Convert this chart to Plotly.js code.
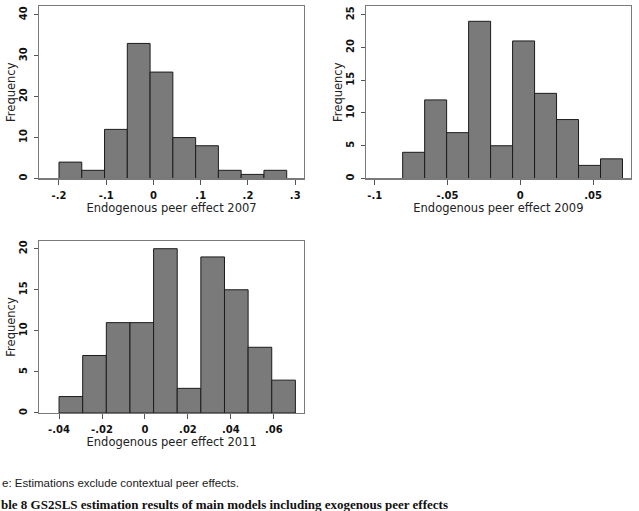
<!DOCTYPE html>
<html>
<head>
<meta charset="utf-8">
<script src="https://cdn.plot.ly/plotly-3.0.1.min.js"></script>
<style>
  html, body { margin: 0; padding: 0; background: #ffffff; }
  #chart { width: 639px; height: 511px; }
</style>
</head>
<body>
<div id="chart"></div>
<script>
// Frequencies of the estimated endogenous peer effect, one histogram per wave
const freq2007 = [4, 2, 12, 33, 26, 10, 8, 2, 1, 2];
const binStart2007 = -0.2;
const binWidth2007 = 0.0482;

const freq2009 = [4, 12, 7, 24, 5, 21, 13, 9, 2, 3];
const binStart2009 = -0.0808;
const binWidth2009 = 0.0151;

const freq2011 = [2, 7, 11, 11, 20, 3, 19, 15, 8, 4];
const binStart2011 = -0.0400;
const binWidth2011 = 0.0110;

// Tick positions and their labels (Stata style, no leading zero)
const xTicks2007 = [-0.2, -0.1, 0, 0.1, 0.2, 0.3];
const xLabels2007 = ['-.2', '-.1', '0', '.1', '.2', '.3'];
const yTicks2007 = [0, 10, 20, 30, 40];

const xTicks2009 = [-0.1, -0.05, 0, 0.05];
const xLabels2009 = ['-.1', '-.05', '0', '.05'];
const yTicks2009 = [0, 5, 10, 15, 20, 25];

const xTicks2011 = [-0.04, -0.02, 0, 0.02, 0.04, 0.06];
const xLabels2011 = ['-.04', '-.02', '0', '.02', '.04', '.06'];
const yTicks2011 = [0, 5, 10, 15, 20];

const xTitles = ['Endogenous peer effect 2007', 'Endogenous peer effect 2009', 'Endogenous peer effect 2011'];

function binCenters(start, width, n) {
  return Array.from({length: n}, (_, i) => start + (i + 0.5) * width);
}

function histTrace(freq, start, width, xa, ya) {
  return {
    type: 'bar',
    x: binCenters(start, width, freq.length),
    y: freq,
    width: freq.map(() => width),
    xaxis: xa,
    yaxis: ya,
    marker: { color: '#7a7a7a', line: { color: '#1c1c1c', width: 1 } },
    hoverinfo: 'x+y',
    showlegend: false
  };
}

const traces = [
  histTrace(freq2007, binStart2007, binWidth2007, 'x', 'y'),
  histTrace(freq2009, binStart2009, binWidth2009, 'x2', 'y2'),
  histTrace(freq2011, binStart2011, binWidth2011, 'x3', 'y3')
];

const tickFont = { family: 'DejaVu Sans', size: 10, color: '#111111', weight: 'bold' };
const titleFont = { family: 'DejaVu Sans', size: 11.5, color: '#222222' };

function xAxis(domain, range, vals, labels, title, anchor) {
  return {
    domain: domain, range: range, anchor: anchor,
    tickmode: 'array', tickvals: vals, ticktext: labels,
    ticks: 'outside', ticklen: 5, tickcolor: '#555555', tickwidth: 1,
    ticklabelstandoff: 2,
    showline: true, mirror: true, linecolor: '#7a7a7a', linewidth: 1.2,
    showgrid: false, zeroline: false,
    tickfont: tickFont,
    title: { text: title, font: titleFont, standoff: 0 },
    automargin: false, fixedrange: true
  };
}

function yAxis(domain, range, vals, anchor) {
  return {
    domain: domain, range: range, anchor: anchor,
    tickmode: 'array', tickvals: vals,
    ticks: 'outside', ticklen: 4, tickcolor: '#555555', tickwidth: 1,
    tickangle: -90,
    ticklabelstandoff: 3,
    showline: true, mirror: true, linecolor: '#7a7a7a', linewidth: 1.2,
    showgrid: false, zeroline: false,
    tickfont: tickFont,
    title: { text: 'Frequency', font: titleFont, standoff: 0 },
    automargin: false, fixedrange: true
  };
}

const layout = {
  width: 639, height: 511,
  margin: { l: 0, r: 0, t: 0, b: 0 },
  paper_bgcolor: '#ffffff', plot_bgcolor: '#ffffff',
  bargap: 0,
  xaxis:  xAxis([0.0615, 0.4753], [-0.2417, 0.318], xTicks2007, xLabels2007, xTitles[0], 'y'),
  yaxis:  yAxis([0.6507, 0.9883], [0, 42.15], yTicks2007, 'x'),
  xaxis2: xAxis([0.5732, 0.9867], [-0.1058, 0.0757], xTicks2009, xLabels2009, xTitles[1], 'y2'),
  yaxis2: yAxis([0.6507, 0.9883], [0, 26.34], yTicks2009, 'x2'),
  xaxis3: xAxis([0.0615, 0.4757], [-0.0492, 0.0740], xTicks2011, xLabels2011, xTitles[2], 'y3'),
  yaxis3: yAxis([0.1918, 0.5284], [0, 20.94], yTicks2011, 'x3'),
  annotations: [
    {
      text: 'e: Estimations exclude contextual peer effects.',
      xref: 'paper', yref: 'paper', x: 0, y: 1 - 483 / 511,
      xanchor: 'left', yanchor: 'middle', showarrow: false,
      font: { family: 'Liberation Sans', size: 11.5, color: '#1a1a1a' }
    },
    {
      text: '<b>ble 8 GS2SLS estimation results of main models including exogenous peer effects</b>',
      xref: 'paper', yref: 'paper', x: 0, y: 0,
      xanchor: 'left', yanchor: 'bottom', yshift: -2, borderpad: 0, showarrow: false,
      font: { family: 'Liberation Serif', size: 13, color: '#111111' }
    }
  ]
};

Plotly.newPlot('chart', traces, layout, { staticPlot: true, displayModeBar: false });
</script>
</body>
</html>
